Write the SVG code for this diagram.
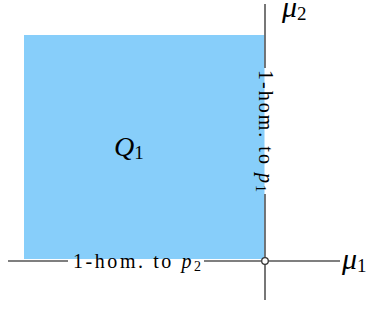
<svg xmlns="http://www.w3.org/2000/svg" width="376" height="335" viewBox="0 0 376 335">
<style>
.ax{stroke:#555;stroke-width:1.6;fill:none}
.lbl{font-family:"Liberation Serif","DejaVu Serif",serif;font-size:20px;fill:#000}
.math{font-family:"Liberation Serif","DejaVu Serif",serif;font-style:italic;fill:#000}
.sub{font-family:"Liberation Serif","DejaVu Serif",serif;font-style:normal}
</style>
<rect width="376" height="335" fill="#fff"/>
<g id="Q1">
<rect x="24" y="35" width="240.5" height="224" fill="#87CEFA"/>
<text class="math" x="114" y="156" font-size="28">Q<tspan class="sub" font-size="19" dy="3">1</tspan></text>
</g>
<g id="connectors">
<line class="ax" x1="265" y1="4" x2="265" y2="68"/>
<line class="ax" x1="265" y1="194" x2="265" y2="257.5"/>
<line class="ax" x1="265" y1="264.5" x2="265" y2="300"/>
<line class="ax" x1="8" y1="261" x2="68" y2="261"/>
<line class="ax" x1="204" y1="261" x2="261.5" y2="261"/>
<line class="ax" x1="268.5" y1="261" x2="340" y2="261"/>
<circle cx="265" cy="261" r="3.3" fill="#fff" stroke="#333" stroke-width="1.3"/>
</g>
<g id="label-p1">
<text class="lbl" transform="translate(258.5,131) rotate(90)" text-anchor="middle" textLength="122" lengthAdjust="spacing">1-hom. to <tspan font-style="italic">p</tspan><tspan font-size="14" dy="3">1</tspan></text>
</g>
<g id="label-p2">
<text class="lbl" x="137" y="267.5" text-anchor="middle" textLength="128" lengthAdjust="spacing">1-hom. to <tspan font-style="italic">p</tspan><tspan font-size="14" dy="3">2</tspan></text>
</g>
<g id="mu2">
<text class="math" x="282" y="17" font-size="30">μ<tspan class="sub" font-size="19" dy="3">2</tspan></text>
</g>
<g id="mu1">
<text class="math" x="342" y="269" font-size="30">μ<tspan class="sub" font-size="19" dy="3">1</tspan></text>
</g>
</svg>
